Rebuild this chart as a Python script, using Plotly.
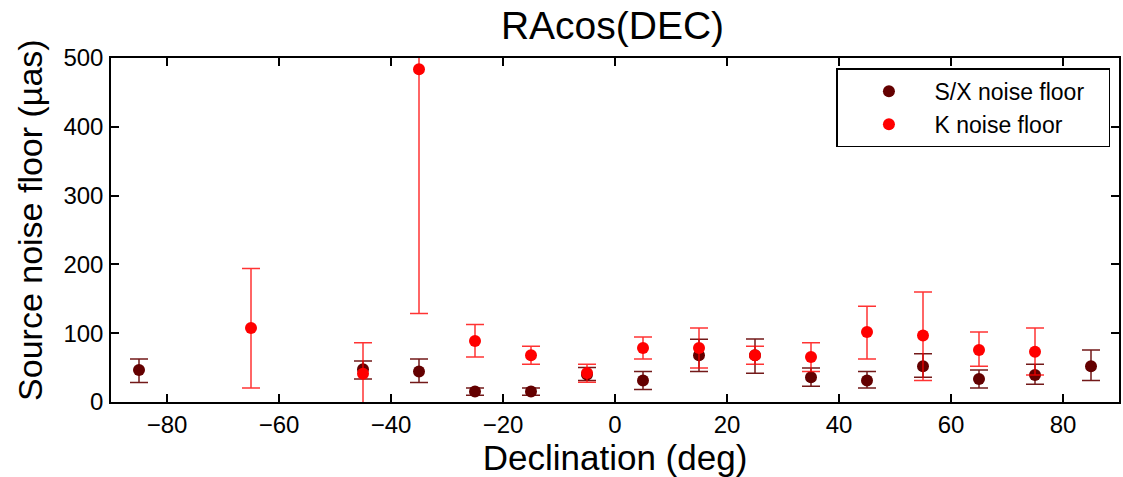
import plotly.graph_objects as go

# Declination bin centres (deg)
dec_sx = [-85, -45, -35, -25, -15, -5, 5, 15, 25, 35, 45, 55, 65, 75, 85]
sx_val = [46.5, 47.5, 44.2, 15.1, 15.1, 40.0, 31.1, 67.9, 68.0, 35.9, 31.1, 51.9, 33.5, 39.3, 51.9]
sx_hi = [62.5, 59.6, 62.5, 20.3, 20.3, 50.0, 44.2, 91.3, 91.6, 49.5, 44.2, 70.3, 46.5, 54.8, 75.6]
sx_lo = [28.2, 33.4, 28.2, 9.7, 9.7, 31.1, 18.0, 44.4, 41.7, 22.8, 20.3, 35.9, 20.3, 25.7, 31.1]

dec_k = [-65, -45, -35, -25, -15, -5, 5, 15, 25, 35, 45, 55, 65, 75]
k_val = [107.6, 41.2, 483.6, 88.7, 67.9, 42.2, 78.5, 78.5, 67.9, 65.4, 101.8, 96.5, 75.6, 73.2]
k_hi = [193.9, 86.3, 840.0, 112.5, 81.0, 54.8, 94.5, 107.4, 81.0, 86.3, 139.1, 159.9, 101.8, 107.6]
k_lo = [20.3, -5.0, 128.5, 65.4, 54.8, 28.6, 62.5, 49.5, 54.8, 44.2, 62.5, 31.1, 51.9, 39.3]

x_ticks = [-80, -60, -40, -20, 0, 20, 40, 60, 80]
y_ticks = [0, 100, 200, 300, 400, 500]

SX_COLOR = "#640000"
K_COLOR = "#ff0000"
FONT = "Liberation Sans, Arial, Helvetica, sans-serif"
PAD = "\u00a0" * 4

fig = go.Figure()
fig.add_trace(go.Scatter(
    x=dec_sx, y=sx_val, mode="markers", name=PAD + "S/X noise floor" + "\u00a0" * 3,
    marker=dict(color=SX_COLOR, size=12, line=dict(width=0)),
    error_y=dict(type="data", symmetric=False,
                 array=[h - v for h, v in zip(sx_hi, sx_val)],
                 arrayminus=[v - l for v, l in zip(sx_val, sx_lo)],
                 color="rgba(100,0,0,0.9)", thickness=1.5, width=9),
))
fig.add_trace(go.Scatter(
    x=dec_k, y=k_val, mode="markers", name=PAD + "K noise floor",
    marker=dict(color=K_COLOR, size=12, line=dict(width=0)),
    error_y=dict(type="data", symmetric=False,
                 array=[h - v for h, v in zip(k_hi, k_val)],
                 arrayminus=[v - l for v, l in zip(k_val, k_lo)],
                 color="rgba(255,0,0,0.8)", thickness=1.5, width=9),
))

axis_common = dict(
    showline=True, linecolor="black", linewidth=1.5, mirror="ticks",
    ticks="inside", ticklen=8, tickwidth=1.5, tickcolor="black",
    showgrid=False, zeroline=False,
    tickfont=dict(family=FONT, size=24, color="black"),
)

fig.update_layout(
    width=1123, height=477,
    margin=dict(l=111, r=2, t=58, b=75),
    paper_bgcolor="white", plot_bgcolor="white",
    font=dict(family=FONT, color="black"),
    title=dict(text="RAcos(DEC)", x=0.5454, xanchor="center", y=0.947, yanchor="middle",
               yref="container", font=dict(family=FONT, size=39, color="black")),
    xaxis=dict(range=[-90, 90], tickvals=x_ticks, ticklabelstandoff=0,
               title=dict(text="Declination (deg)", font=dict(family=FONT, size=35, color="black"),
                          standoff=2),
               **axis_common),
    yaxis=dict(range=[0, 500], tickvals=y_ticks, ticklabelstandoff=1,
               **axis_common),
    legend=dict(x=0.9915, xanchor="right", y=0.97, yanchor="top",
                bordercolor="black", borderwidth=1.5, bgcolor="white",
                font=dict(family=FONT, size=23, color="black"),
                indentation=31, tracegroupgap=0),
    showlegend=True,
    annotations=[dict(text="Source noise floor (µas)", textangle=-90,
                      xref="paper", yref="paper", x=-0.0802, y=0.5297,
                      xanchor="center", yanchor="middle", showarrow=False,
                      font=dict(family=FONT, size=34, color="black"))],
)

fig.write_html("out.html")
